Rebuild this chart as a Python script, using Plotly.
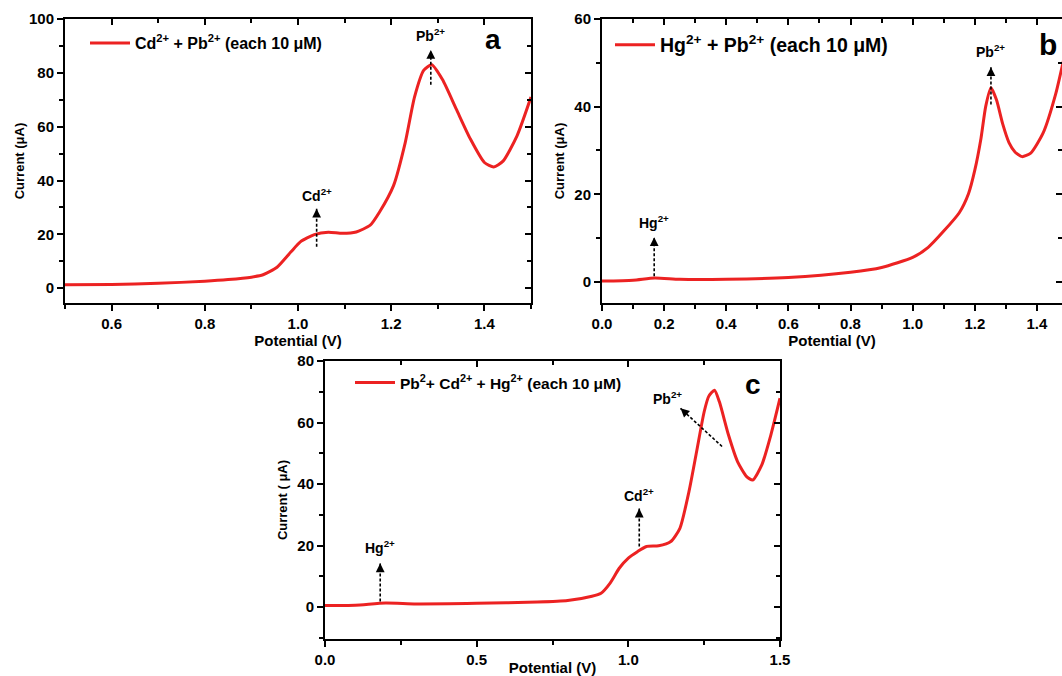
import math
import plotly.graph_objects as go

# ---------------- data ----------------
# panel a : Cd2+ + Pb2+
a_potential = [0.50, 0.60, 0.70, 0.80, 0.85, 0.90, 0.925, 0.955, 0.985, 1.005, 1.035, 1.065,
               1.095, 1.125, 1.155, 1.175, 1.205, 1.23, 1.25, 1.27, 1.287, 1.31, 1.34, 1.37,
               1.40, 1.42, 1.44, 1.47, 1.50]
a_current = [1.3, 1.4, 1.8, 2.6, 3.2, 4.1, 5.0, 7.8, 13.5, 17.2, 19.9, 20.8,
             20.4, 20.9, 23.4, 28.3, 38.1, 54.0, 71.0, 81.0, 83.0, 77.5, 66.4, 55.4,
             46.7, 45.0, 47.2, 56.6, 71.0]

# panel b : Hg2+ + Pb2+
b_potential = [0.00, 0.10, 0.17, 0.25, 0.40, 0.60, 0.80, 0.90, 1.00, 1.05, 1.10, 1.15, 1.18,
               1.20, 1.22, 1.235, 1.252, 1.27, 1.29, 1.31, 1.33, 1.352, 1.38, 1.42, 1.46, 1.49]
b_current = [0.2, 0.4, 0.9, 0.6, 0.6, 1.0, 2.2, 3.3, 5.6, 7.9, 11.6, 15.8, 20.2,
             25.5, 32.8, 40.0, 44.3, 41.5, 36.0, 31.8, 29.6, 28.6, 29.4, 34.0, 42.8, 52.0]

# panel c : Pb2+ + Cd2+ + Hg2+
c_potential = [0.00, 0.10, 0.20, 0.30, 0.50, 0.70, 0.80, 0.88, 0.91, 0.94, 0.97, 1.00, 1.03,
               1.06, 1.10, 1.14, 1.17, 1.20, 1.225, 1.25, 1.265, 1.284, 1.30, 1.33, 1.36, 1.39,
               1.41, 1.44, 1.47, 1.50]
c_current = [0.5, 0.6, 1.3, 1.0, 1.2, 1.6, 2.1, 3.5, 4.5, 7.8, 12.6, 15.9, 18.0,
             19.7, 19.9, 21.3, 25.6, 37.6, 50.5, 63.5, 68.5, 70.5, 66.8, 56.0, 47.3, 42.4,
             41.3, 46.2, 56.0, 67.9]

a_label = "Cd<sup>2+</sup> + Pb<sup>2+</sup> (each 10 μM)"
b_label = "Hg<sup>2+</sup> + Pb<sup>2+</sup> (each 10 μM)"
c_label = "Pb<sup>2</sup>+ Cd<sup>2+</sup> + Hg<sup>2+</sup> (each 10 μM)"

# peak marker arrows: (tail x, tail y, head x, head y, label x, label y, text)
a_arrows = [(1.04, 15.4, 1.04, 29.5, 1.04, 34.5, "Cd<sup>2+</sup>"),
            (1.285, 75.6, 1.285, 88.5, 1.285, 94.0, "Pb<sup>2+</sup>")]
b_arrows = [(0.168, 1.3, 0.168, 10.2, 0.168, 13.6, "Hg<sup>2+</sup>"),
            (1.252, 40.5, 1.252, 49.0, 1.252, 52.8, "Pb<sup>2+</sup>")]
c_arrows = [(0.182, 1.8, 0.182, 14.2, 0.182, 19.6, "Hg<sup>2+</sup>"),
            (1.036, 19.7, 1.036, 32.0, 1.036, 36.4, "Cd<sup>2+</sup>"),
            (1.309, 52.2, 1.172, 64.6, 1.13, 68.0, "Pb<sup>2+</sup>")]

# ---------------- layout geometry ----------------
W, H = 1062, 676
def xd(p0, p1):
    return [p0 / W, min(p1 / W, 1.0)]
def yd(p_top, p_bot):
    return [1 - p_bot / H, 1 - p_top / H]

RED = "rgb(236,34,34)"
FONT = "Liberation Sans, Arial, sans-serif"

ra_x, ra_y = [0.5, 1.5], [-5.5, 100]
rb_x, rb_y = [0, 1.5 * (1062 - 602) / (1068 - 602)], [-4.8, 60]
rc_x, rc_y = [0, 1.5], [-10.4, 80]

pix_a = (xd(65, 531), yd(19, 303))
pix_b = (xd(602, 1062), yd(19, 303))
pix_c = (xd(325, 780), yd(361, 639))

fig = go.Figure()

panels = [
    dict(x=a_potential, y=a_current, name=a_label, xa="x", ya="y", legend="legend"),
    dict(x=b_potential, y=b_current, name=b_label, xa="x2", ya="y2", legend="legend2"),
    dict(x=c_potential, y=c_current, name=c_label, xa="x3", ya="y3", legend="legend3"),
]
for p in panels:
    fig.add_trace(go.Scatter(x=p["x"], y=p["y"], mode="lines", name=p["name"],
                             line=dict(color=RED, width=3, shape="spline", smoothing=0.6),
                             xaxis=p["xa"], yaxis=p["ya"], legend=p["legend"], showlegend=True))

# empty helper traces so the top / right tick-only axes are drawn
for xa, ya in [("x4", "y"), ("x", "y4"), ("x5", "y2"), ("x2", "y5"), ("x6", "y3"), ("x3", "y6")]:
    fig.add_trace(go.Scatter(x=[], y=[], mode="lines", xaxis=xa, yaxis=ya,
                             showlegend=False, hoverinfo="skip"))

tickfont = dict(family=FONT, size=15, color="black", weight="bold")
titlefont = dict(family=FONT, size=15, color="black", weight="bold")

def main_x(domain, rng, dtick, mdtick, anchor, title, fmt):
    return dict(domain=domain, range=rng, anchor=anchor, showline=True, linecolor="black",
                linewidth=2, mirror=True, ticks="outside", ticklen=6, tickwidth=2,
                tickcolor="black", dtick=dtick, tick0=0, showgrid=False, zeroline=False,
                automargin=False,
                tickfont=tickfont, tickformat=fmt, tickprefix="<b>", ticksuffix="</b>",
                minor=dict(ticks="outside", ticklen=4, tickwidth=2,
                           dtick=mdtick, tick0=0, tickcolor="black"),
                title=dict(text="<b>" + title + "</b>", font=titlefont, standoff=3))

def main_y(domain, rng, anchor, title, standoff):
    return dict(domain=domain, range=rng, anchor=anchor, showline=True, linecolor="black",
                linewidth=2, mirror=True, ticks="outside", ticklen=6, tickwidth=2,
                tickcolor="black", dtick=20, tick0=0, showgrid=False, zeroline=False,
                automargin=False,
                tickfont=tickfont, tickprefix="<b>", ticksuffix="</b>",
                minor=dict(ticks="outside", ticklen=4, tickwidth=2,
                           dtick=10, tick0=0, tickcolor="black"),
                title=dict(text="<b>" + title + "</b>",
                           font=dict(family=FONT, size=13, color="black", weight="bold"),
                           standoff=standoff))

def over_x(base, anchor, rng, dtick, mdtick):
    return dict(overlaying=base, anchor=anchor, side="top", range=rng, ticks="inside",
                ticklen=6, tickwidth=2, tickcolor="black", dtick=dtick, tick0=0,
                showticklabels=False, showgrid=False, zeroline=False, showline=False,
                automargin=False,
                minor=dict(ticks="inside", ticklen=4, tickwidth=2, dtick=mdtick, tick0=0,
                           tickcolor="black"))

def over_y(base, anchor, rng):
    return dict(overlaying=base, anchor=anchor, side="right", range=rng, ticks="inside",
                ticklen=6, tickwidth=2, tickcolor="black", dtick=20, tick0=0,
                showticklabels=False, showgrid=False, zeroline=False, showline=False,
                automargin=False,
                minor=dict(ticks="inside", ticklen=4, tickwidth=2, dtick=10, tick0=0,
                           tickcolor="black"))

fig.update_layout(
    width=W, height=H, margin=dict(l=0, r=0, t=0, b=0, autoexpand=False),
    paper_bgcolor="white", plot_bgcolor="white",
    xaxis=main_x(pix_a[0], ra_x, 0.2, 0.1, "y", "Potential (V)", ".1f"),
    yaxis=main_y(pix_a[1], ra_y, "x", "Current (μA)", 1),
    xaxis2=main_x(pix_b[0], rb_x, 0.2, 0.1, "y2", "Potential (V)", ".1f"),
    yaxis2=main_y(pix_b[1], rb_y, "x2", "Current (μA)", 7),
    xaxis3=main_x(pix_c[0], rc_x, 0.5, 0.25, "y3", "Potential (V)", ".1f"),
    yaxis3=main_y(pix_c[1], rc_y, "x3", "Current ( μA)", 7),
    xaxis4=over_x("x", "y", ra_x, 0.2, 0.1),
    yaxis4=over_y("y", "x", ra_y),
    xaxis5=over_x("x2", "y2", rb_x, 0.2, 0.1),
    yaxis5=over_y("y2", "x2", rb_y),
    xaxis6=over_x("x3", "y3", rc_x, 0.5, 0.25),
    yaxis6=over_y("y3", "x3", rc_y),
    showlegend=True,
)

leg_common = dict(xanchor="left", yanchor="middle", bgcolor="rgba(0,0,0,0)",
                  borderwidth=0, itemwidth=40)
fig.update_layout(
    legend=dict(x=(95 - 10) / W, y=1 - 43 / H,
                font=dict(family=FONT, size=16, color="black", weight="bold"), **leg_common),
    legend2=dict(x=(620 - 10) / W, y=1 - 45 / H,
                 font=dict(family=FONT, size=19.5, color="black", weight="bold"), **leg_common),
    legend3=dict(x=(360 - 10) / W, y=1 - 383 / H,
                 font=dict(family=FONT, size=15.5, color="black", weight="bold"), **leg_common),
)

# arrows and peak labels
lab_font = dict(family=FONT, size=14, color="black", weight="bold")
for arrows, xa, ya, rx, ry, pix in [(a_arrows, "x", "y", ra_x, ra_y, pix_a),
                                    (b_arrows, "x2", "y2", rb_x, rb_y, pix_b),
                                    (c_arrows, "x3", "y3", rc_x, rc_y, pix_c)]:
    sx = (pix[0][1] - pix[0][0]) * W / (rx[1] - rx[0])   # px per unit
    sy = (pix[1][1] - pix[1][0]) * H / (ry[1] - ry[0])
    for (tx, ty, hx, hy, lx, ly, txt) in arrows:
        fig.add_shape(type="line", x0=tx, y0=ty, x1=hx, y1=hy, xref=xa, yref=ya,
                      line=dict(color="black", width=1.6, dash="3px,2px"))
        dxp, dyp = (tx - hx) * sx, -(ty - hy) * sy
        n = math.hypot(dxp, dyp)
        fig.add_annotation(x=hx, y=hy, ax=dxp / n * 7, ay=dyp / n * 7, xref=xa, yref=ya,
                           text="", showarrow=True, arrowhead=2, arrowsize=1.1,
                           arrowwidth=1.6, arrowcolor="black", standoff=0)
        fig.add_annotation(x=lx, y=ly, xref=xa, yref=ya, text="<b>" + txt + "</b>",
                           showarrow=False, font=lab_font)

# panel letters
for letter, px, py, size in [("a", 493, 40, 28), ("b", 1048, 45, 30), ("c", 753, 384, 28)]:
    fig.add_annotation(x=px / W, y=1 - py / H, xref="paper", yref="paper",
                       text="<b>" + letter + "</b>", showarrow=False,
                       font=dict(family=FONT, size=size, color="black", weight="bold"),
                       xanchor="center", yanchor="middle")

fig.write_html("out.html")
